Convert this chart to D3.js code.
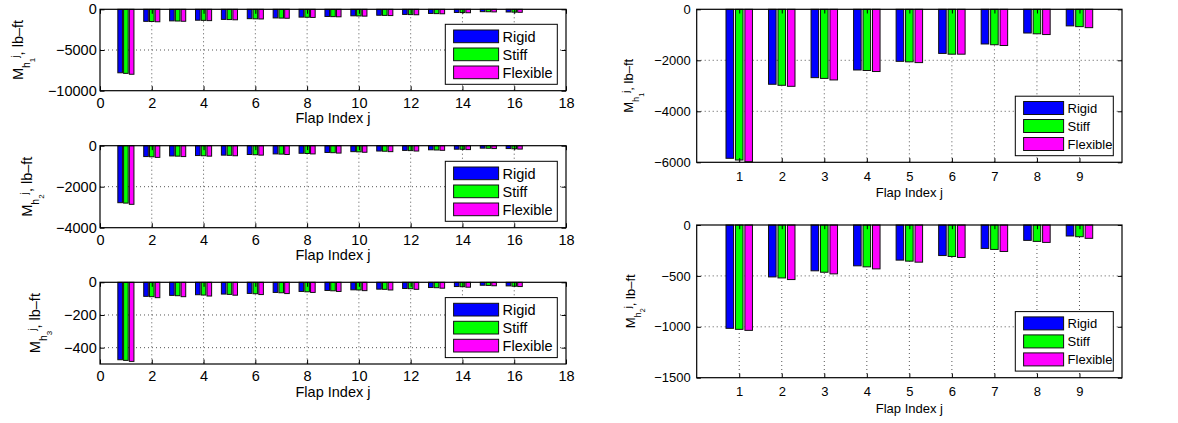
<!DOCTYPE html>
<html><head><meta charset="utf-8">
<script src="https://cdn.jsdelivr.net/npm/d3@7"></script>
<style>
body{margin:0;background:#fff}
svg{display:block}
text{font-family:"Liberation Sans",Arial,Helvetica,sans-serif;fill:#000}
</style>
</head><body>
<svg id="c" width="1178" height="423"></svg>
<script>
// ---------------- data ----------------
const seriesNames = ["Rigid", "Stiff", "Flexible"];
const seriesColors = ["#0000ff", "#00ff00", "#ff00ff"];

const flaps16 = [1,2,3,4,5,6,7,8,9,10,11,12,13,14,15,16];
const flaps9 = [1,2,3,4,5,6,7,8,9];

// left column, 16 flaps
const mh1_16_rigid = [-7800,-1480,-1420,-1340,-1240,-1150,-1060,-960,-880,-800,-730,-630,-510,-390,-290,-330];
const mh1_16_stiff = [-7870,-1500,-1440,-1360,-1260,-1170,-1080,-980,-900,-820,-750,-650,-530,-400,-300,-350];
const mh1_16_flex  = [-7980,-1530,-1470,-1390,-1290,-1190,-1100,-1000,-920,-840,-770,-670,-550,-420,-320,-370];

const mh2_16_rigid = [-2780,-530,-500,-480,-460,-430,-400,-370,-330,-290,-260,-230,-200,-170,-120,-140];
const mh2_16_stiff = [-2800,-540,-510,-490,-470,-440,-410,-380,-340,-300,-270,-240,-210,-175,-125,-150];
const mh2_16_flex  = [-2860,-570,-530,-510,-490,-460,-430,-400,-360,-320,-290,-260,-225,-190,-140,-165];

const mh3_16_rigid = [-474,-86,-80,-76,-72,-68,-62,-56,-50,-46,-42,-38,-32,-26,-18,-22];
const mh3_16_stiff = [-478,-88,-82,-78,-74,-70,-64,-58,-52,-47,-43,-39,-33,-27,-19,-24];
const mh3_16_flex  = [-484,-94,-88,-84,-79,-75,-69,-62,-56,-51,-47,-43,-36,-30,-21,-26];

// right column, 9 flaps
const mh1_9_rigid = [-5843,-2940,-2680,-2380,-2040,-1730,-1360,-930,-650];
const mh1_9_stiff = [-5910,-2980,-2710,-2400,-2060,-1760,-1390,-960,-680];
const mh1_9_flex  = [-5976,-3020,-2770,-2440,-2090,-1760,-1420,-990,-720];

const mh2_9_rigid = [-1015,-510,-450,-401,-345,-300,-230,-151,-108];
const mh2_9_stiff = [-1025,-520,-464,-411,-355,-309,-240,-161,-115];
const mh2_9_flex  = [-1035,-536,-480,-431,-365,-319,-260,-171,-131];

// tick values
const xTicks16 = [0,2,4,6,8,10,12,14,16,18];
const xTicks9 = [1,2,3,4,5,6,7,8,9];
const yTicksA = [-10000,-5000,0];
const yTicksB = [-4000,-2000,0];
const yTicksC = [-400,-200,0];
const yTicksD = [-6000,-4000,-2000,0];
const yTicksE = [-1500,-1000,-500,0];

const xLabel = "Flap Index j";

// ---------------- drawing ----------------
const svg = d3.select("#c");

function panel(cfg) {
  const g = svg.append("g");
  const fs = cfg.fs;
  const x = d3.scaleLinear().domain(cfg.xDomain).range([cfg.left, cfg.right]);
  const y = d3.scaleLinear().domain(cfg.yDomain).range([cfg.bottom, cfg.top]);
  const sub = d3.scaleBand().domain(seriesNames).range([-1/3, 1/3]).paddingInner(0.2).paddingOuter(0.1);
  const bwPx = x(sub.bandwidth()) - x(0);

  // grid
  const gridX = cfg.xTicks.filter(v => v > cfg.xDomain[0] && v < cfg.xDomain[1]);
  const gridY = cfg.yTicks.filter(v => v > cfg.yDomain[0] && v < cfg.yDomain[1]);
  g.append("g").selectAll("line").data(gridX).join("line")
    .attr("x1", d => x(d)).attr("x2", d => x(d))
    .attr("y1", cfg.top).attr("y2", cfg.bottom)
    .attr("stroke", "#555").attr("stroke-width", 1).attr("stroke-dasharray", "1,3");
  g.append("g").selectAll("line").data(gridY).join("line")
    .attr("x1", cfg.left).attr("x2", cfg.right)
    .attr("y1", d => y(d)).attr("y2", d => y(d))
    .attr("stroke", "#555").attr("stroke-width", 1).attr("stroke-dasharray", "1,3");

  // bars
  cfg.series.forEach((vals, si) => {
    const name = seriesNames[si];
    const data = cfg.cats.map((c, i) => ({c, v: vals[i]}));
    g.append("g").selectAll("rect").data(data).join("rect")
      .attr("x", d => x(d.c + sub(name)))
      .attr("width", bwPx)
      .attr("y", d => Math.min(y(0), y(d.v)))
      .attr("height", d => Math.abs(y(d.v) - y(0)))
      .attr("fill", seriesColors[si])
      .attr("stroke", "#111").attr("stroke-width", 1);
  });

  // axes with inward ticks
  const tl = cfg.tickLen;
  const ax = g.append("g").attr("class", "axes");
  ax.append("g").attr("transform", `translate(0,${cfg.bottom})`)
    .call(d3.axisBottom(x).tickValues(cfg.xTicks).tickSize(-tl).tickPadding(cfg.xPad).tickFormat(d3.format("d")));
  ax.append("g").attr("transform", `translate(0,${cfg.top})`)
    .call(d3.axisTop(x).tickValues(cfg.xTicks).tickSize(-tl).tickFormat(""));
  ax.append("g").attr("transform", `translate(${cfg.left},0)`)
    .call(d3.axisLeft(y).tickValues(cfg.yTicks).tickSize(-tl).tickPadding(cfg.yPad).tickFormat(d3.format("d")));
  ax.append("g").attr("transform", `translate(${cfg.right},0)`)
    .call(d3.axisRight(y).tickValues(cfg.yTicks).tickSize(-tl).tickFormat(""));
  ax.selectAll(".domain").remove();
  ax.selectAll("text").attr("font-size", fs).attr("font-family", '"Liberation Sans",Arial,sans-serif').attr("fill", "#000");
  ax.selectAll(".tick line").attr("stroke", "#000");

  // box
  g.append("rect").attr("x", cfg.left).attr("y", cfg.top)
    .attr("width", cfg.right - cfg.left).attr("height", cfg.bottom - cfg.top)
    .attr("fill", "none").attr("stroke", "#000").attr("stroke-width", 1.2);

  // x label
  g.append("text").attr("x", (cfg.left + cfg.right) / 2).attr("y", cfg.bottom + cfg.xLabOff)
    .attr("text-anchor", "middle").attr("font-size", fs).text(xLabel);

  // y label  M_{h_k}^j, lb–ft
  const t = g.append("text")
    .attr("transform", `translate(${cfg.yLabX},${(cfg.top + cfg.bottom) / 2}) rotate(-90)`)
    .attr("text-anchor", "middle").attr("font-size", fs);
  t.append("tspan").text("M");
  t.append("tspan").attr("font-size", fs * 0.72).attr("dy", fs * 0.45).text("h");
  t.append("tspan").attr("font-size", fs * 0.55).attr("dy", fs * 0.35).text(cfg.sub);
  t.append("tspan").attr("font-size", fs * 0.72).attr("dy", -fs * 1.1).text("j");
  t.append("tspan").attr("font-size", fs).attr("dy", fs * 0.3).text(", lb–ft");

  // legend
  const L = cfg.legend;
  const lx = cfg.right - L.rInset - L.w;
  const ly = cfg.bottom - L.bInset - L.h;
  const lg = g.append("g").attr("transform", `translate(${lx},${ly})`);
  lg.append("rect").attr("width", L.w).attr("height", L.h)
    .attr("fill", "#fff").attr("stroke", "#000").attr("stroke-width", 1);
  seriesNames.forEach((n, i) => {
    const ry = L.rowTop + i * L.rowStep;
    lg.append("rect").attr("x", L.sx).attr("y", ry).attr("width", L.sw).attr("height", L.sh)
      .attr("fill", seriesColors[i]).attr("stroke", "#111").attr("stroke-width", 1);
    lg.append("text").attr("x", L.sx + L.sw + 4).attr("y", ry + L.sh / 2)
      .attr("dy", "0.36em").attr("font-size", fs).text(n);
  });
}

const legLeft = {w: 112, h: 60, rInset: 8.7, bInset: 6.4, sx: 8.3, sw: 45, sh: 12.7, rowTop: 5.7, rowStep: 18};
const legRight = {w: 98, h: 59.5, rInset: 8.7, bInset: 6.6, sx: 8.3, sw: 40, sh: 13, rowTop: 5.3, rowStep: 18};

const leftBase = {left: 100, right: 566, xDomain: [0, 18], xTicks: xTicks16, cats: flaps16,
  fs: 14.5, tickLen: 4.5, xPad: 7, yPad: 3.3, xLabOff: 32.5, legend: legLeft};
const rightBase = {left: 696.7, right: 1122, xDomain: [0, 10], xTicks: xTicks9, cats: flaps9,
  fs: 13, tickLen: 4.2, xPad: 9.5, yPad: 6, xLabOff: 35, legend: legRight};

panel(Object.assign({}, leftBase, {top: 9.3, bottom: 90.7, yDomain: [-10000, 0], yTicks: yTicksA,
  series: [mh1_16_rigid, mh1_16_stiff, mh1_16_flex], sub: "1", yLabX: 23.3}));
panel(Object.assign({}, leftBase, {top: 145.7, bottom: 227.7, yDomain: [-4000, 0], yTicks: yTicksB,
  series: [mh2_16_rigid, mh2_16_stiff, mh2_16_flex], sub: "2", yLabX: 32.3}));
panel(Object.assign({}, leftBase, {top: 282.3, bottom: 364, yDomain: [-500, 0], yTicks: yTicksC,
  series: [mh3_16_rigid, mh3_16_stiff, mh3_16_flex], sub: "3", yLabX: 40}));
panel(Object.assign({}, rightBase, {top: 9.3, bottom: 162.3, yDomain: [-6000, 0], yTicks: yTicksD,
  series: [mh1_9_rigid, mh1_9_stiff, mh1_9_flex], sub: "1", yLabX: 633.3}));
panel(Object.assign({}, rightBase, {top: 225, bottom: 377.7, yDomain: [-1500, 0], yTicks: yTicksE,
  series: [mh2_9_rigid, mh2_9_stiff, mh2_9_flex], sub: "2", yLabX: 635}));
</script>
</body></html>
